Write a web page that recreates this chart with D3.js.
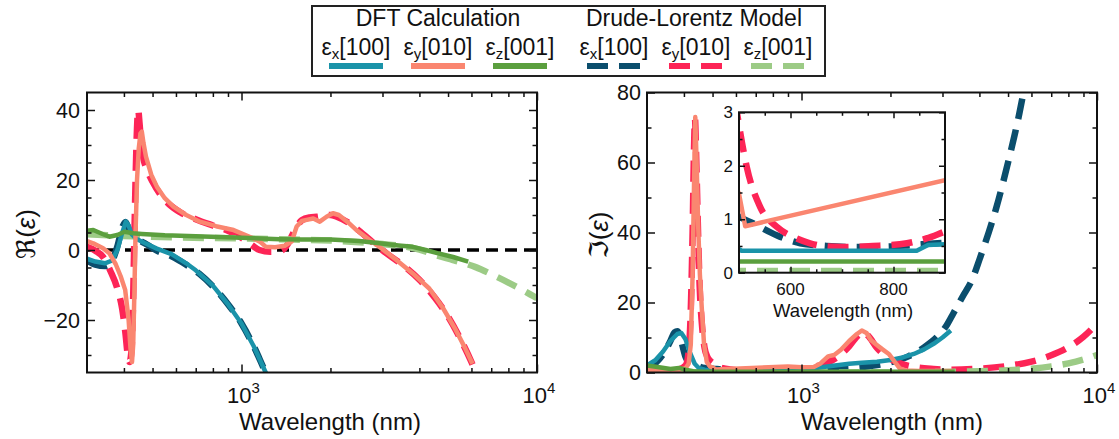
<!DOCTYPE html>
<html>
<head>
<meta charset="utf-8">
<script src="https://cdn.jsdelivr.net/npm/d3@7"></script>
<style>
  body { margin: 0; background: #fff; }
  svg { display: block; font-family: "Liberation Sans", Arial, "DejaVu Sans", sans-serif; }
</style>
</head>
<body>
<svg id="chart" width="1119" height="439"></svg>
<script>
// ---- axes ---------------------------------------------------------------
const lambdaDomain = [300, 10000];
const xMajorTicks = [1000, 10000];
const xMinorTicks = [400, 500, 600, 700, 800, 900, 2000, 3000, 4000, 5000, 6000, 7000, 8000, 9000];
const xTickLabels = [{ v: 1000, base: "10", exp: "3" }, { v: 10000, base: "10", exp: "4" }];

const reDomain = [-35, 45];
const reMajorTicks = [-20, 0, 20, 40];
const reMinorTicks = [-30, -25, -15, -10, -5, 5, 10, 15, 25, 30, 35];

const imDomain = [0, 80];
const imMajorTicks = [0, 20, 40, 60, 80];
const imMinorTicks = [10, 30, 50, 70];

const insetXDomain = [500, 900];
const insetXMajorTicks = [600, 800];
const insetXMinorTicks = [550, 650, 700, 750, 850];
const insetYDomain = [0, 3];
const insetYMajorTicks = [0, 1, 2, 3];
const insetYMinorTicks = [0.5, 1.5, 2.5];

// ---- real part: [wavelength nm, Re(eps)] --------------------------------
const reDFTx = [[300,-2.5],[320,-3.3],[345,-3.8],[365,-3.0],[380,0],[395,5],[406,8.1],[415,7],[425,4.5],[440,3.2],[470,2],[517,0.4],
  [580,-1.2],[650,-3.8],[700,-5.8],[800,-10.2],[900,-15.5],[1000,-21],[1100,-27.5],[1200,-34.5],[1240,-37]];
const reDFTy = [[300,2.5],[315,1.9],[340,0.5],[357,-0.9],[375,-4],[390,-7.5],[404,-11.4],[415,-20],[421,-28],[426,-32],[430,-27],
  [434,-12],[438,5],[443,20],[449,29],[455,33.3],[460,33.8],[466,30.5],[475,26.7],[495,21.5],[517,18.1],[550,14.8],[588,12.4],
  [650,10],[723,8.1],[820,6.8],[940,5.7],[1050,4],[1154,2.4],[1210,0.9],[1300,0.8],[1400,1.2],[1480,2.5],[1537,6.7],[1600,8.3],
  [1660,8.6],[1750,9],[1840,8.1],[1940,9.5],[2040,10.5],[2135,10],[2300,7.8],[2450,5.7],[2700,3],[2930,0.9],[3350,-2.9],
  [3800,-6.7],[4320,-11],[4800,-16.5],[5300,-22.7],[5700,-27.9],[6050,-32.5]];
const reDFTz = [[300,5.5],[315,5.7],[340,4.5],[357,3.8],[380,4.3],[402,5.2],[430,4.8],[460,4.6],[550,4.2],[700,3.9],[1000,3.5],
  [1350,3.1],[1600,3.0],[2000,3.0],[2500,2.6],[2930,1.9],[3400,1.3],[3800,0.9],[4200,0],[4600,-0.9],[5200,-2],[5850,-3.3]];
const reDLx = [[300,-3],[320,-4.2],[345,-4.6],[365,-3],[380,1],[395,6.5],[405,8],[415,6],[428,3.8],[450,2.8],[480,1.5],[517,-0.2],
  [580,-1.8],[650,-4.2],[720,-6.8],[800,-10.4],[900,-15.5],[1000,-21],[1100,-27.5],[1200,-34.5],[1240,-37]];
const reDLy = [[300,0.9],[320,-0.2],[340,-2],[360,-6],[380,-11],[395,-17],[405,-24],[412,-30],[418,-32],[424,-29],[429,-17],
  [433,0],[438,20],[443,35],[447,40],[452,36],[458,30],[466,26],[478,23],[500,19.5],[530,16],[570,13],[620,10.8],[700,8.8],
  [800,7],[900,5.5],[1000,3.5],[1080,1.5],[1150,0],[1250,-0.5],[1350,-0.3],[1430,1.5],[1500,5],[1600,8.5],[1700,9.3],
  [1800,9.5],[1900,9.8],[2000,10],[2100,9.5],[2300,7.8],[2500,5.5],[2800,2],[3100,-1],[3500,-4.2],[4000,-8.5],[4500,-13.5],
  [5000,-19],[5500,-25.3],[6000,-32],[6250,-35.6]];
const reDLz = [[300,4.5],[400,4.0],[600,3.6],[1000,3.3],[1500,3.0],[2000,2.7],[2500,2.2],[3000,1.7],[3500,1.1],[4000,0.1],
  [4600,-1.6],[5200,-2.9],[6200,-4.9],[7000,-6.9],[8000,-9.3],[9000,-11.6],[10000,-13.8]];

// ---- imaginary part: [wavelength nm, Im(eps)] ---------------------------
const imDFTx = [[300,2.0],[320,3.5],[340,6],[360,9],[380,11],[392,11.3],[405,9.5],[420,5.5],[435,2.5],[450,1.2],[470,0.8],
  [490,0.5],[505,0.41],[845,0.41],[867,0.52],[900,0.53],[1000,0.8],[1150,1.4],[1300,2.0],[1450,2.5],[1600,2.8],[1800,3.1],
  [2000,3.6],[2200,4.3],[2400,5.3],[2600,6.6],[2800,8.2],[3000,10],[3200,12]];
const imDFTy = [[300,0.8],[340,0.5],[380,0.6],[405,1.2],[415,2.5],[422,8],[428,28],[433,55],[437,73],[441,62],[447,42],[453,28],
  [460,18],[468,8],[478,3],[490,1.7],[500,1.48],[512,0.87],[900,1.73],[1000,1.5],[1100,1.6],[1160,2.6],[1230,4.6],[1290,5.0],
  [1360,6.5],[1450,9],[1540,11],[1600,12],[1660,11.3],[1720,9.2],[1790,8.0],[1880,6.6],[1980,5.2],[2070,3],[2150,1.2],
  [2250,0.6],[2500,0.45],[2900,0.4],[3250,0.4]];
const imDFTz = [[300,2.0],[330,1.5],[360,1.0],[385,1.3],[405,0.8],[430,0.35],[470,0.22],[500,0.21],[900,0.21],[3300,0.2]];
const imDLx = [[300,1.0],[320,2.6],[340,5.2],[360,9.0],[372,11.5],[380,11.8],[388,10.5],[396,7.5],[405,4.5],[413,3.3],[422,3.5],
  [430,3.2],[440,2.3],[455,1.6],[475,1.25],[500,1.05],[528,0.92],[573,0.70],[619,0.55],[670,0.50],[730,0.48],[790,0.49],
  [838,0.52],[900,0.56],[1000,0.65],[1200,0.9],[1500,1.35],[1800,2.1],[2000,2.9],[2300,4.6],[2600,7.2],[2900,10.5],
  [3100,13.5],[3270,17],[3500,21.5],[3800,27],[4010,32.5],[4300,40],[4560,47],[4800,54],[5050,61.5],[5300,69],[5460,74],
  [5650,80.5],[5800,86]];
const imDLy = [[300,0.5],[380,0.8],[405,2],[415,6],[422,18],[428,40],[433,65],[436,72.5],[440,62],[446,42],[452,25],[460,14],
  [470,7],[480,4.5],[490,3.4],[500,2.76],[515,1.98],[541,1.23],[573,0.86],[605,0.67],[638,0.55],[670,0.49],[700,0.48],
  [760,0.5],[826,0.55],[864,0.64],[900,0.77],[1000,1.1],[1150,2],[1300,4],[1450,7.5],[1550,10.5],[1620,11.5],[1700,10],
  [1800,7],[1950,4.5],[2100,3],[2400,1.6],[2800,1.0],[3200,0.8],[4000,1.1],[5000,1.9],[6000,3.1],[7000,4.9],[8000,7.2],
  [9000,10.2],[10000,14]];
const imDLz = [[300,0.6],[350,0.3],[400,0.1],[500,0.03],[900,0.03],[2000,0.05],[3000,0.15],[4000,0.35],[5000,0.65],
  [6000,1.1],[7000,1.75],[8000,2.6],[9000,3.7],[10000,5.0]];

// ---- legend -------------------------------------------------------------
const legendGroups = ["DFT Calculation", "Drude-Lorentz Model"];
const legendComponents = [
  { sub: "x", dir: "[100]" }, { sub: "y", dir: "[010]" }, { sub: "z", dir: "[001]" }
];

const colors = {
  dftX: "#1a93a9", dftY: "#fa8670", dftZ: "#5b9f3e",
  dlX: "#0b4e6d", dlY: "#fd2456", dlZ: "#9ccb86"
};

// ---- drawing ------------------------------------------------------------
const svg = d3.select("#chart");
const plotTop = 92.5, plotBottom = 372.5;

const xRe = d3.scaleLog().domain(lambdaDomain).range([87, 537]);
const yRe = d3.scaleLinear().domain(reDomain).range([plotBottom, plotTop]);
const xIm = d3.scaleLog().domain(lambdaDomain).range([647, 1097]);
const yIm = d3.scaleLinear().domain(imDomain).range([plotBottom, plotTop]);
const xIn = d3.scaleLinear().domain(insetXDomain).range([739, 945]);
const yIn = d3.scaleLinear().domain(insetYDomain).range([272.7, 112.3]);

const solidW = 4.5, dashW = 6.5, dashPattern = "21,11";

function clipFor(id, x, y) {
  const [x0, x1] = x.range(), [y0, y1] = y.range();
  svg.append("clipPath").attr("id", id).append("rect")
    .attr("x", x0).attr("y", y1).attr("width", x1 - x0).attr("height", y0 - y1);
  return `url(#${id})`;
}

// inward ticks on all four sides
function ticksFor(g, x, y, xMajor, xMinor, yMajor, yMinor, majLen, minLen) {
  const [x0, x1] = x.range(), [y0, y1] = y.range();
  const specs = [
    [d3.axisBottom, x, `translate(0,${y0})`],
    [d3.axisTop, x, `translate(0,${y1})`],
  ];
  for (const [fn, sc, tr] of specs) {
    for (const [vals, len] of [[xMajor, majLen], [xMinor, minLen]]) {
      g.append("g").attr("transform", tr)
        .call(fn(sc).tickValues(vals).tickSize(-len).tickSizeOuter(0).tickFormat(""))
        .call(s => s.select(".domain").remove());
    }
  }
  const ySpecs = [
    [d3.axisLeft, `translate(${x0},0)`],
    [d3.axisRight, `translate(${x1},0)`],
  ];
  for (const [fn, tr] of ySpecs) {
    for (const [vals, len] of [[yMajor, majLen], [yMinor, minLen]]) {
      g.append("g").attr("transform", tr)
        .call(fn(y).tickValues(vals).tickSize(-len).tickSizeOuter(0).tickFormat(""))
        .call(s => s.select(".domain").remove());
    }
  }
  g.selectAll(".tick line").attr("stroke", "#111").attr("stroke-width", 1.5);
  g.append("rect").attr("x", x0).attr("y", y1).attr("width", x1 - x0).attr("height", y0 - y1)
    .attr("fill", "none").attr("stroke", "#111").attr("stroke-width", 2);
}

function series(g, data, x, y, color, dashed, curve) {
  g.append("path").datum(data)
    .attr("d", d3.line().x(d => x(d[0])).y(d => y(d[1])).curve(curve))
    .attr("fill", "none").attr("stroke", color)
    .attr("stroke-width", dashed ? dashW : solidW)
    .attr("stroke-dasharray", dashed ? dashPattern : null)
    .attr("stroke-linejoin", "round");
}

function drawSet(g, x, y, set) {
  series(g, set.dlX, x, y, colors.dlX, true, d3.curveMonotoneX);
  series(g, set.dlY, x, y, colors.dlY, true, d3.curveMonotoneX);
  series(g, set.dlZ, x, y, colors.dlZ, true, d3.curveMonotoneX);
  series(g, set.dftX, x, y, colors.dftX, false, d3.curveLinear);
  series(g, set.dftY, x, y, colors.dftY, false, d3.curveLinear);
  series(g, set.dftZ, x, y, colors.dftZ, false, d3.curveLinear);
}

function xLabels(g, x, yPos) {
  const t = g.selectAll("text.xl").data(xTickLabels).join("text")
    .attr("class", "xl").attr("x", d => x(d.v) + 2).attr("y", yPos)
    .attr("text-anchor", "middle").attr("font-size", 22).attr("fill", "#111");
  t.append("tspan").text(d => d.base);
  t.append("tspan").attr("font-size", 15).attr("dy", -10).text(d => d.exp);
}

function yLabels(g, y, xPos, ticks, size) {
  g.selectAll(null).data(ticks).join("text")
    .attr("x", xPos).attr("y", d => y(d)).attr("dy", "0.36em")
    .attr("text-anchor", "end").attr("font-size", size).attr("fill", "#111")
    .text(d => d < 0 ? "\u2212" + Math.abs(d) : String(d));
}

function axisTitle(g, x, y, size, rotate) {
  const t = g.append("text").attr("x", x).attr("y", y).attr("text-anchor", "middle")
    .attr("font-size", size).attr("fill", "#111");
  if (rotate) t.attr("transform", `rotate(-90,${x},${y})`);
  return t;
}

function complexTitle(g, x, y, symbol) {
  const t = axisTitle(g, x, y, 26, true).attr("dy", "0.35em");
  t.append("tspan").attr("font-family", "DejaVu Sans").text(symbol);
  t.append("tspan").text("(");
  t.append("tspan").attr("font-style", "italic").text("\u03B5");
  t.append("tspan").text(")");
}

// left panel: real part
const gRe = svg.append("g");
const clipRe = clipFor("clipRe", xRe, yRe);
const linesRe = gRe.append("g").attr("clip-path", clipRe);
linesRe.append("line")
  .attr("x1", xRe(lambdaDomain[0])).attr("x2", xRe(lambdaDomain[1]))
  .attr("y1", yRe(0)).attr("y2", yRe(0))
  .attr("stroke", "#000").attr("stroke-width", 3.5).attr("stroke-dasharray", "12,7");
drawSet(linesRe, xRe, yRe, { dftX: reDFTx, dftY: reDFTy, dftZ: reDFTz, dlX: reDLx, dlY: reDLy, dlZ: reDLz });
ticksFor(gRe, xRe, yRe, xMajorTicks, xMinorTicks, reMajorTicks, reMinorTicks, 8, 4.5);
xLabels(gRe, xRe, 403);
yLabels(gRe, yRe, 80, reMajorTicks, 21.5);
axisTitle(gRe, 330, 430, 24).text("Wavelength (nm)");
complexTitle(gRe, 26, 234, "\u211C");

// right panel: imaginary part
const gIm = svg.append("g");
const clipIm = clipFor("clipIm", xIm, yIm);
const linesIm = gIm.append("g").attr("clip-path", clipIm);
drawSet(linesIm, xIm, yIm, { dftX: imDFTx, dftY: imDFTy, dftZ: imDFTz, dlX: imDLx, dlY: imDLy, dlZ: imDLz });
ticksFor(gIm, xIm, yIm, xMajorTicks, xMinorTicks, imMajorTicks, imMinorTicks, 8, 4.5);
xLabels(gIm, xIm, 403);
yLabels(gIm, yIm, 641, imMajorTicks, 21.5);
axisTitle(gIm, 892, 430, 24).text("Wavelength (nm)");
complexTitle(gIm, 599, 235, "\u2111");

// inset: visible range close-up of the imaginary part
const gIn = svg.append("g");
gIn.append("rect").attr("x", 739).attr("y", 112.3).attr("width", 206).attr("height", 160.4).attr("fill", "#fff");
const clipIn = clipFor("clipIn", xIn, yIn);
const linesIn = gIn.append("g").attr("clip-path", clipIn);
drawSet(linesIn, xIn, yIn, { dftX: imDFTx, dftY: imDFTy, dftZ: imDFTz, dlX: imDLx, dlY: imDLy, dlZ: imDLz });
ticksFor(gIn, xIn, yIn, insetXMajorTicks, insetXMinorTicks, insetYMajorTicks, insetYMinorTicks, 6, 3.5);
gIn.selectAll("text.ix").data(insetXMajorTicks).join("text").attr("class", "ix")
  .attr("x", d => xIn(d)).attr("y", 295).attr("text-anchor", "middle")
  .attr("font-size", 17).attr("fill", "#111").text(d => d);
yLabels(gIn, yIn, 733, insetYMajorTicks, 17);
gIn.append("text").attr("x", 843).attr("y", 316.5).attr("text-anchor", "middle")
  .attr("font-size", 18.5).attr("fill", "#111").text("Wavelength (nm)");

// legend
const gLeg = svg.append("g");
gLeg.append("rect").attr("x", 312).attr("y", 6).attr("width", 513).attr("height", 70)
  .attr("fill", "#fff").attr("stroke", "#222").attr("stroke-width", 2);
const groupCenters = [438, 694];
legendGroups.forEach((name, i) => {
  gLeg.append("text").attr("x", groupCenters[i]).attr("y", 26).attr("text-anchor", "middle")
    .attr("font-size", 23).attr("fill", "#111").text(name);
});
const entryCenters = [[356, 438, 520], [614, 696, 778]];
const entryColors = [[colors.dftX, colors.dftY, colors.dftZ], [colors.dlX, colors.dlY, colors.dlZ]];
entryCenters.forEach((centers, gi) => {
  centers.forEach((cx, ci) => {
    const comp = legendComponents[ci];
    const t = gLeg.append("text").attr("x", cx).attr("y", 55).attr("text-anchor", "middle")
      .attr("font-size", 23).attr("fill", "#111");
    t.append("tspan").text("\u03B5");
    t.append("tspan").attr("font-size", 15).attr("dy", 4).text(comp.sub);
    t.append("tspan").attr("dy", -4).text(comp.dir);
    gLeg.append("line").attr("x1", cx - 27).attr("x2", cx + 27).attr("y1", 66).attr("y2", 66)
      .attr("stroke", entryColors[gi][ci]).attr("stroke-width", 6)
      .attr("stroke-dasharray", gi === 1 ? dashPattern : null);
  });
});
</script>
</body>
</html>
